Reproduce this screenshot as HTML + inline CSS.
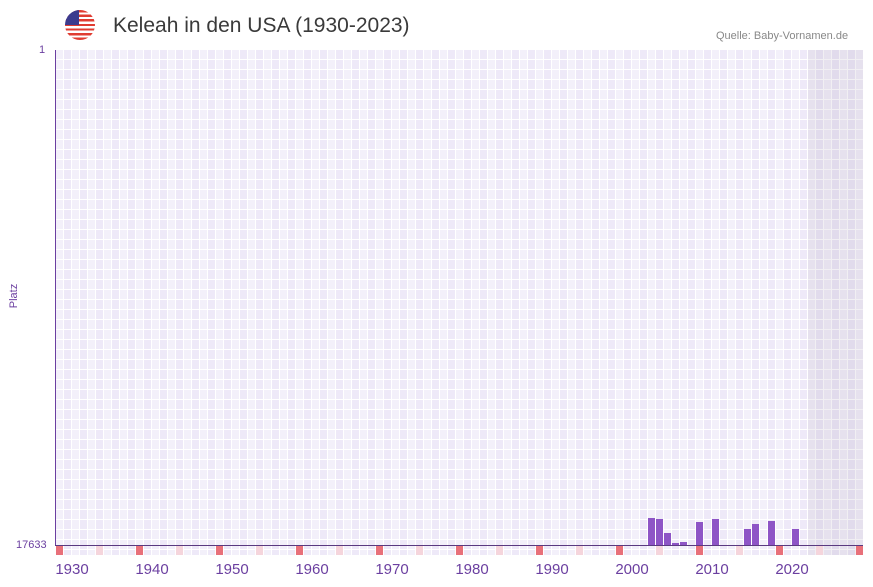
<!DOCTYPE html>
<html><head><meta charset="utf-8"><style>
body{margin:0;width:873px;height:587px;background:#fff;font-family:"Liberation Sans",sans-serif;position:relative;overflow:hidden}
.abs{position:absolute}
#plot{left:56px;top:50px;width:807px;height:505px;
background:
 repeating-linear-gradient(to bottom, transparent 0 9px, #fff 9px 10px),
 repeating-linear-gradient(to right, transparent 0 7px, #fff 7px 8px),
 repeating-linear-gradient(to right, #f3f0fa 0 8px, #eee9f8 8px 16px);}
#shade{left:808px;top:50px;width:55px;height:505px;background:rgba(120,100,140,0.10)}
.bar{position:absolute;width:7px;background:#8e55c6}
.mk{position:absolute;top:546px;width:7px;height:9px}
.lab{position:absolute;top:561px;font-size:15px;color:#6b3fa0;transform:translateX(-50%)}
</style></head><body>
<div class="abs" style="left:65px;top:10px;width:30px;height:30px;border-radius:50%;overflow:hidden;background:repeating-linear-gradient(to bottom,#e03c31 0 2.3px,#fff 2.3px 4.6px)"><div style="width:14px;height:15px;background:#3c3b8e"></div></div>
<div class="abs" style="left:113px;top:14px;font-size:21px;color:#3a3a3a">Keleah in den USA (1930-2023)</div>
<div class="abs" style="left:716px;top:30px;font-size:11px;color:#888">Quelle: Baby-Vornamen.de</div>
<div class="abs" style="left:39px;top:44px;font-size:11px;color:#6b3fa0">1</div>
<div class="abs" style="left:16px;top:539px;font-size:11px;color:#6b3fa0">17633</div>
<div class="abs" style="left:2px;top:290px;font-size:11px;color:#6b3fa0;transform:rotate(-90deg)">Platz</div>
<div id="plot" class="abs"></div>
<div id="shade" class="abs"></div>
<div class="abs" style="left:55px;top:50px;width:1px;height:496px;background:#6b3fa0"></div>
<div class="abs" style="left:55px;top:545px;width:808px;height:1px;background:#5a3a80"></div>
<div id="bars"></div>
<script>
var b=document.getElementById('bars'),h='';
var d=[[2002,518],[2003,519],[2004,533],[2005,543],[2006,542],[2008,522],[2010,519],[2014,529],[2015,524],[2017,521],[2020,529]];
d.forEach(function(p){h+='<div class="bar" style="left:'+(56+(p[0]-1928)*8)+'px;top:'+p[1]+'px;height:'+(545-p[1])+'px"></div>';});
for(var y=1928;y<=2028;y+=5){var red=(y%10==8);h+='<div class="mk" style="left:'+(56+(y-1928)*8)+'px;background:'+(red?'#e8707a':'#f5d5dc')+'"></div>';}
for(var y=1930;y<=2020;y+=10){h+='<div class="lab" style="left:'+(72+(y-1930)*8)+'px">'+y+'</div>';}
b.innerHTML=h;
</script>
</body></html>
